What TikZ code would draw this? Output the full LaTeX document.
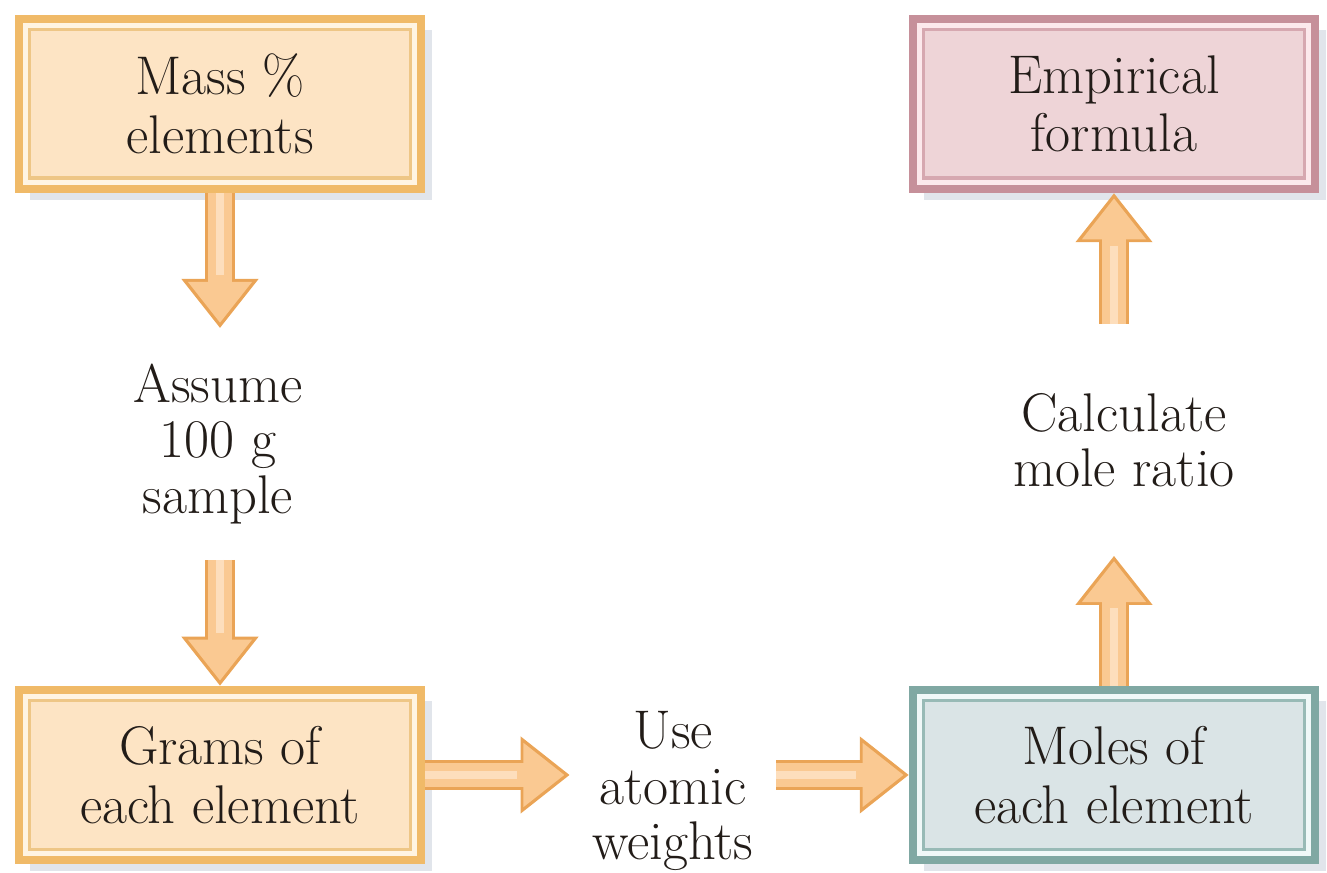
\documentclass[tikz,border=0pt]{standalone}
\usepackage{tikz}
\usetikzlibrary{arrows.meta,shadows}

\definecolor{ink}{RGB}{34,28,24}
\definecolor{shadowc}{RGB}{120,135,165}
\definecolor{massfill}{RGB}{253,228,196}
\definecolor{massedge}{RGB}{240,186,104}
\definecolor{massband}{RGB}{255,244,226}
\definecolor{massline}{RGB}{238,198,134}
\definecolor{empfill}{RGB}{238,212,215}
\definecolor{empedge}{RGB}{198,144,154}
\definecolor{empband}{RGB}{252,233,236}
\definecolor{empline}{RGB}{214,168,176}
\definecolor{molfill}{RGB}{218,228,230}
\definecolor{moledge}{RGB}{128,168,163}
\definecolor{molband}{RGB}{240,248,248}
\definecolor{molline}{RGB}{152,186,182}
\definecolor{arrowedge}{RGB}{234,164,86}
\definecolor{arrowfill}{RGB}{250,201,146}
\definecolor{arrowlight}{RGB}{253,222,188}

\begin{document}
\begin{tikzpicture}[
    flowbox/.style={draw=#1edge, fill=#1fill, line width=2.3pt,
        minimum width=4.02cm, minimum height=1.70cm, align=center, text=ink,
        font=\fontsize{15.5}{16.6}\selectfont,
        drop shadow={shadow xshift=3pt, shadow yshift=-3pt, opacity=0.22, fill=shadowc},
        path picture={
            \draw[#1band, line width=1.5pt]
                ([shift={(1.9pt,1.9pt)}]path picture bounding box.south west) rectangle
                ([shift={(-1.9pt,-1.9pt)}]path picture bounding box.north east);
            \draw[#1line, line width=0.9pt]
                ([shift={(3.1pt,3.1pt)}]path picture bounding box.south west) rectangle
                ([shift={(-3.1pt,-3.1pt)}]path picture bounding box.north east);
        }},
    steptext/.style={align=center, text=ink, font=\fontsize{15.5}{15.8}\selectfont},
    fatarrow/.style={draw=arrowedge, line width=8.5pt, -{Triangle[length=14pt,width=21pt]},
        postaction={draw=arrowfill, line width=6.8pt, shorten >=1.5pt,
            -{Triangle[length=11.7pt,width=17.5pt]}},
        postaction={draw=arrowlight, line width=2.4pt, shorten >=15pt, -}}
]
\useasboundingbox (0,0) rectangle (13.27,8.73);

% boxes
\node[flowbox=mass] (mass) at (2.20,7.69) {Mass \%\\elements};
\node[flowbox=emp] (empirical) at (11.14,7.69) {Empirical\\formula};
\node[flowbox=mass] (grams) at (2.20,0.98) {Grams of\\each element};
\node[flowbox=mol] (moles) at (11.14,0.98) {Moles of\\each element};

% step texts
\node[steptext, inner sep=0.35cm] (assume) at (2.18,4.29) {Assume\\100 g\\sample};
\node[steptext, inner xsep=0.22cm] (use) at (6.73,0.82) {Use\\atomic\\weights};
\node[steptext, inner sep=0.68cm] (ratio) at (11.24,4.33) {Calculate\\mole ratio};

% arrows
\draw[fatarrow] (mass.south) -- (mass.south |- assume.north);
\draw[fatarrow] (grams.north |- assume.south) -- (grams.north);
\draw[fatarrow] (grams.east) -- (grams.east -| use.west);
\draw[fatarrow] (moles.west -| use.east) -- (moles.west);
\draw[fatarrow] (moles.north) -- (moles.north |- ratio.south);
\draw[fatarrow] (empirical.south |- ratio.north) -- (empirical.south);
\end{tikzpicture}
\end{document}
